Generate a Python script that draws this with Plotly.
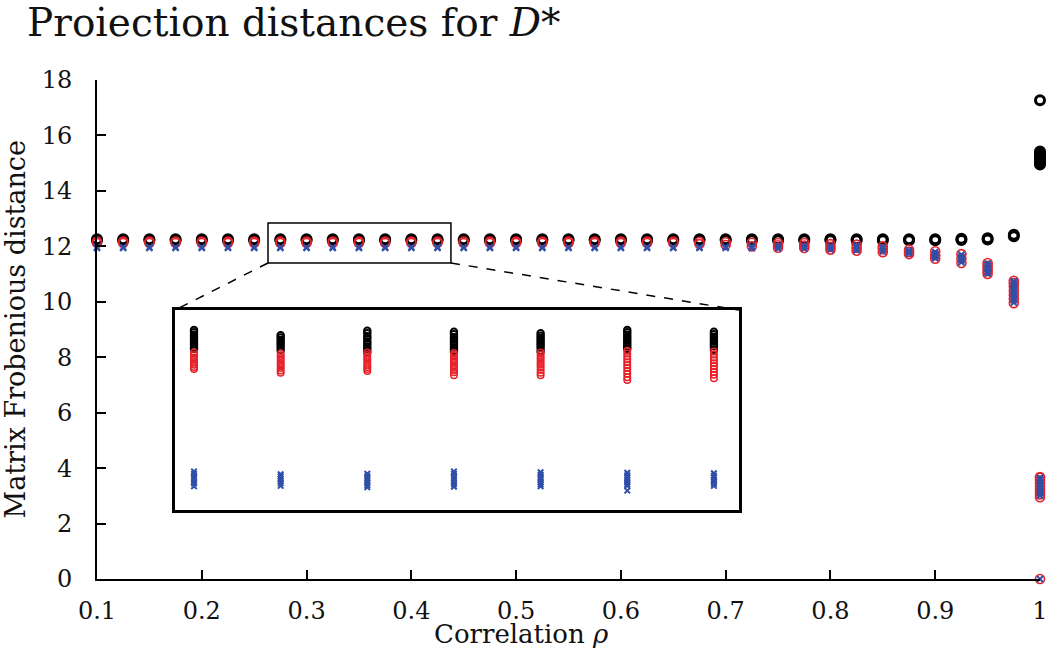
import plotly.graph_objects as go

# ---------------- data ----------------
rho = [0.1, 0.125, 0.15, 0.175, 0.2, 0.225, 0.25, 0.275, 0.3, 0.325, 0.35, 0.375,
       0.4, 0.425, 0.45, 0.475, 0.5, 0.525, 0.55, 0.575, 0.6, 0.625, 0.65, 0.675,
       0.7, 0.725, 0.75, 0.775, 0.8, 0.825, 0.85, 0.875, 0.9, 0.925, 0.95, 0.975, 1.0]

black_vals = [
    [12.22, 12.26], [12.22, 12.26], [12.22, 12.26], [12.22, 12.26], [12.22, 12.26],
    [12.22, 12.26], [12.22, 12.26], [12.22, 12.26], [12.22, 12.26], [12.22, 12.26],
    [12.22, 12.26], [12.22, 12.26], [12.22, 12.26], [12.22, 12.26], [12.22, 12.26],
    [12.22, 12.26], [12.22, 12.26], [12.22, 12.26], [12.22, 12.26], [12.22, 12.26],
    [12.22, 12.26], [12.22, 12.26], [12.22, 12.26], [12.22, 12.26], [12.22, 12.26],
    [12.22, 12.26], [12.22, 12.26], [12.22, 12.26], [12.22, 12.26], [12.22, 12.26],
    [12.22, 12.26], [12.22, 12.26], [12.22, 12.26], [12.23, 12.27], [12.25, 12.29],
    [12.36, 12.42],
    [17.27, 15.42, 15.36, 15.3, 15.24, 15.18, 15.12, 15.06, 15.0, 14.95],
]

red_vals = [
    [12.12, 12.17], [12.12, 12.17], [12.12, 12.17], [12.12, 12.17], [12.12, 12.17],
    [12.12, 12.17], [12.12, 12.17], [12.12, 12.17], [12.12, 12.17], [12.12, 12.17],
    [12.12, 12.17], [12.12, 12.17], [12.12, 12.17], [12.12, 12.17], [12.12, 12.17],
    [12.12, 12.17], [12.12, 12.17], [12.12, 12.17], [12.12, 12.17], [12.12, 12.17],
    [12.12, 12.17], [12.12, 12.17], [12.12, 12.17], [12.08, 12.16],
    [12.05, 12.15], [12.0, 12.13], [11.95, 12.04, 12.12], [11.94, 12.03, 12.12],
    [11.88, 11.98, 12.08], [11.84, 11.95, 12.06], [11.79, 11.9, 12.0],
    [11.72, 11.8, 11.88], [11.55, 11.68, 11.82], [11.4, 11.56, 11.72],
    [11.0, 11.1, 11.2, 11.3, 11.4],
    [9.95, 10.1, 10.25, 10.4, 10.55, 10.68, 10.76],
    [2.95, 3.05, 3.15, 3.25, 3.35, 3.45, 3.55, 3.65, 3.68, 0.0],
]

blue_vals = [
    [11.94, 11.97], [11.94, 11.97], [11.94, 11.97], [11.94, 11.97], [11.94, 11.97],
    [11.94, 11.97], [11.94, 11.97], [11.94, 11.97], [11.94, 11.97], [11.94, 11.97],
    [11.94, 11.97], [11.94, 11.97], [11.94, 11.97], [11.94, 11.97], [11.94, 11.97],
    [11.94, 11.97], [11.94, 11.97], [11.94, 11.97], [11.94, 11.97], [11.94, 11.97],
    [11.94, 11.97], [11.94, 11.97], [11.94, 11.97], [11.94, 11.97],
    [11.94, 11.99], [11.93, 12.0], [11.92, 12.02], [11.92, 12.02],
    [11.88, 11.94, 12.0], [11.86, 11.95, 12.03], [11.81, 11.9, 11.98],
    [11.74, 11.8, 11.86], [11.57, 11.63, 11.68, 11.74, 11.8],
    [11.42, 11.49, 11.56, 11.63, 11.7],
    [11.02, 11.1, 11.2, 11.29, 11.38],
    [9.97, 10.07, 10.17, 10.27, 10.37, 10.47, 10.57, 10.67, 10.74],
    [3.0, 3.1, 3.2, 3.3, 3.4, 3.5, 3.6, 3.65, 0.0],
]

# inset (zoom of rho 0.275 ... 0.425)
inset_rho = [0.275, 0.3, 0.325, 0.35, 0.375, 0.4, 0.425]
inset_black = [
    [12.261, 12.256, 12.251, 12.246, 12.241, 12.236, 12.231, 12.226, 12.222],
    [12.250, 12.245, 12.240, 12.235, 12.230, 12.225, 12.219],
    [12.259, 12.254, 12.248, 12.243, 12.237, 12.232, 12.226, 12.221, 12.215],
    [12.257, 12.252, 12.246, 12.241, 12.236, 12.231, 12.225, 12.220, 12.215],
    [12.254, 12.249, 12.244, 12.239, 12.234, 12.229, 12.224, 12.217],
    [12.261, 12.256, 12.251, 12.246, 12.241, 12.236, 12.231, 12.226, 12.222],
    [12.257, 12.252, 12.247, 12.242, 12.237, 12.232, 12.227, 12.220],
]
inset_red = [
    [12.214, 12.209, 12.204, 12.199, 12.194, 12.189, 12.184, 12.180],
    [12.212, 12.207, 12.202, 12.197, 12.192, 12.187, 12.182, 12.177, 12.172],
    [12.214, 12.209, 12.204, 12.199, 12.194, 12.189, 12.184, 12.180, 12.176],
    [12.213, 12.208, 12.203, 12.198, 12.193, 12.188, 12.183, 12.178, 12.173, 12.167],
    [12.214, 12.209, 12.204, 12.199, 12.194, 12.189, 12.184, 12.178, 12.172, 12.167],
    [12.218, 12.212, 12.206, 12.200, 12.194, 12.188, 12.182, 12.176, 12.170, 12.163, 12.157],
    [12.216, 12.210, 12.204, 12.198, 12.192, 12.186, 12.180, 12.174, 12.168, 12.161],
]
inset_blue = [
    [11.968, 11.963, 11.958, 11.953, 11.948, 11.943, 11.937],
    [11.962, 11.958, 11.953, 11.948, 11.943, 11.938],
    [11.963, 11.958, 11.953, 11.948, 11.944, 11.939, 11.935],
    [11.968, 11.963, 11.957, 11.952, 11.946, 11.941, 11.936],
    [11.966, 11.961, 11.955, 11.950, 11.945, 11.941, 11.937],
    [11.965, 11.960, 11.955, 11.950, 11.945, 11.941, 11.938, 11.928],
    [11.964, 11.959, 11.955, 11.950, 11.946, 11.942, 11.938],
]

x_ticks = [0.1, 0.2, 0.3, 0.4, 0.5, 0.6, 0.7, 0.8, 0.9, 1.0]
x_ticktext = ["0.1", "0.2", "0.3", "0.4", "0.5", "0.6", "0.7", "0.8", "0.9", "1"]
y_ticks = [0, 2, 4, 6, 8, 10, 12, 14, 16, 18]

# ---------------- style ----------------
BLACK = "#000000"
RED = "#e8202a"
BLUE = "#2f4fa8"
FONT = "DejaVu Serif"

X_RANGE = [0.1, 1.0]
Y_RANGE = [0, 18]
# zoom rectangle on the main axes and inset frame (main data coordinates)
zoom_box = dict(x0=0.2632, x1=0.4378, y0=11.40, y1=12.84)
inset_box = dict(x0=0.1744, x1=0.7126, y0=2.49, y1=9.70)
INSET_X_RANGE = [0.2695, 0.4322]
INSET_Y_RANGE = [11.888, 12.302]


def flatten(xs, vals):
    X, Y = [], []
    for x, vs in zip(xs, vals):
        for v in vs:
            X.append(x)
            Y.append(v)
    return X, Y


fig = go.Figure()

bx, by = flatten(rho, black_vals)
rx, ry = flatten(rho, red_vals)
ux, uy = flatten(rho, blue_vals)

fig.add_trace(go.Scatter(x=bx, y=by, mode="markers", cliponaxis=False,
                         marker=dict(symbol="circle-open", size=9, color=BLACK,
                                     line=dict(width=3, color=BLACK)),
                         showlegend=False))
fig.add_trace(go.Scatter(x=rx, y=ry, mode="markers", cliponaxis=False,
                         marker=dict(symbol="circle-open", size=9, color=RED,
                                     line=dict(width=1.6, color=RED)),
                         showlegend=False))
fig.add_trace(go.Scatter(x=ux, y=uy, mode="markers", cliponaxis=False,
                         marker=dict(symbol="x-thin-open", size=6, color=BLUE,
                                     line=dict(width=2, color=BLUE)),
                         showlegend=False))

ibx, iby = flatten(inset_rho, inset_black)
irx, iry = flatten(inset_rho, inset_red)
iux, iuy = flatten(inset_rho, inset_blue)

fig.add_trace(go.Scatter(x=ibx, y=iby, mode="markers", xaxis="x2", yaxis="y2",
                         marker=dict(symbol="circle-open", size=6.5, color=BLACK,
                                     line=dict(width=2, color=BLACK)),
                         showlegend=False))
fig.add_trace(go.Scatter(x=irx, y=iry, mode="markers", xaxis="x2", yaxis="y2",
                         marker=dict(symbol="circle-open", size=6.5, color=RED,
                                     line=dict(width=1.5, color=RED)),
                         showlegend=False))
fig.add_trace(go.Scatter(x=iux, y=iuy, mode="markers", xaxis="x2", yaxis="y2",
                         marker=dict(symbol="x-thin-open", size=5.5, color=BLUE,
                                     line=dict(width=2, color=BLUE)),
                         showlegend=False))

axis_common = dict(showline=True, linewidth=2, linecolor=BLACK, showgrid=False,
                   zeroline=False, ticks="inside", ticklen=9, tickwidth=1.5,
                   tickcolor=BLACK, automargin=False,
                   tickfont=dict(family=FONT, size=24, color="#111"))

fx0 = (inset_box["x0"] - X_RANGE[0]) / (X_RANGE[1] - X_RANGE[0])
fx1 = (inset_box["x1"] - X_RANGE[0]) / (X_RANGE[1] - X_RANGE[0])
fy0 = (inset_box["y0"] - Y_RANGE[0]) / (Y_RANGE[1] - Y_RANGE[0])
fy1 = (inset_box["y1"] - Y_RANGE[0]) / (Y_RANGE[1] - Y_RANGE[0])

fig.update_layout(
    width=1050, height=648,
    margin=dict(l=97, r=10, t=80, b=69, autoexpand=False),
    paper_bgcolor="white", plot_bgcolor="white",
    title=dict(text="Proiection distances for <i>D</i>*",
               font=dict(family=FONT, size=39, color="#111"),
               x=27 / 1050, xanchor="left", xref="container",
               y=0.987, yanchor="top", yref="container"),
    xaxis=dict(range=X_RANGE, tickvals=x_ticks, ticktext=x_ticktext,
               ticklabelstandoff=9, **axis_common),
    yaxis=dict(range=Y_RANGE, tickvals=y_ticks, ticklabelstandoff=18, **axis_common),
    xaxis2=dict(domain=[fx0, fx1], anchor="y2", range=INSET_X_RANGE, automargin=False,
                showline=True, mirror=True, linewidth=3, linecolor=BLACK,
                showgrid=False, zeroline=False, showticklabels=False, ticks=""),
    yaxis2=dict(domain=[fy0, fy1], anchor="x2", range=INSET_Y_RANGE, automargin=False,
                showline=True, mirror=True, linewidth=3, linecolor=BLACK,
                showgrid=False, zeroline=False, showticklabels=False, ticks=""),
    shapes=[
        dict(type="rect", xref="x", yref="y", x0=zoom_box["x0"], x1=zoom_box["x1"],
             y0=zoom_box["y0"], y1=zoom_box["y1"], line=dict(color=BLACK, width=1.5)),
        dict(type="line", xref="x", yref="y", x0=zoom_box["x0"], y0=zoom_box["y0"],
             x1=inset_box["x0"], y1=inset_box["y1"],
             line=dict(color=BLACK, width=1.5, dash="dash")),
        dict(type="line", xref="x", yref="y", x0=zoom_box["x1"], y0=zoom_box["y0"],
             x1=inset_box["x1"], y1=inset_box["y1"],
             line=dict(color=BLACK, width=1.5, dash="dash")),
    ],
    annotations=[
        dict(text="Correlation <i>ρ</i>", xref="paper", yref="paper",
             x=(521 - 97) / 943, y=(579 - 634) / 499, xanchor="center", yanchor="middle",
             showarrow=False, font=dict(family=FONT, size=26, color="#111")),
        dict(text="Matrix Frobenious distance", xref="paper", yref="paper",
             x=(15 - 97) / 943, y=0.5, xanchor="center", yanchor="middle",
             textangle=-90, showarrow=False, font=dict(family=FONT, size=27, color="#111")),
    ],
)

fig.write_html("out.html", config={"displayModeBar": False},
               post_script="document.body.style.margin='0px';")
